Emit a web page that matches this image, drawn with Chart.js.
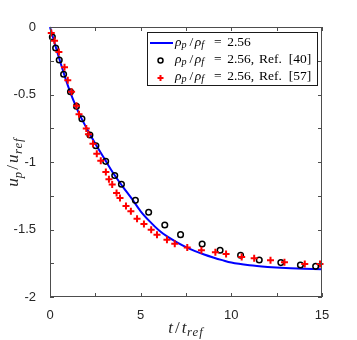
<!DOCTYPE html>
<html>
<head>
<meta charset="utf-8">
<script src="https://cdn.jsdelivr.net/npm/chart.js@4"></script>
<style>
  html, body { margin: 0; padding: 0; background: #fff; }
  #wrap { width: 357px; height: 340px; }
</style>
</head>
<body>
<div id="wrap"><canvas id="velocityChart" width="357" height="340"></canvas></div>
<script>
// === data ===
const blueT = [0, 0.5, 1, 1.5, 2, 2.5, 3, 3.5, 4, 4.5, 5, 5.5, 6, 6.5, 7, 7.5, 8, 8.5, 9, 9.5, 10, 11, 12, 13, 14, 15];
const blueU = [0, -0.23, -0.44, -0.61, -0.745, -0.865, -0.975, -1.085, -1.18, -1.27, -1.365, -1.44, -1.505, -1.555, -1.595, -1.63, -1.66, -1.685, -1.707, -1.727, -1.745, -1.765, -1.777, -1.785, -1.79, -1.795];

const circT = [0.13, 0.31, 0.51, 0.75, 1.13, 1.46, 1.76, 2.2, 2.53, 3.07, 3.57, 3.94, 4.71, 5.44, 6.33, 7.2, 8.39, 9.38, 10.51, 11.54, 12.73, 13.81, 14.65];
const circU = [-0.074, -0.155, -0.244, -0.35, -0.48, -0.587, -0.68, -0.8, -0.88, -0.995, -1.1, -1.165, -1.284, -1.372, -1.467, -1.538, -1.607, -1.654, -1.691, -1.726, -1.745, -1.763, -1.773];

const crossT = [0.07, 0.25, 0.49, 0.8, 0.98, 1.19, 1.46, 1.6, 2.0, 2.12, 2.37, 2.58, 2.8, 3.08, 3.25, 3.43, 3.67, 3.86, 4.19, 4.46, 4.8, 5.18, 5.58, 5.9, 6.45, 6.88, 7.57, 8.35, 9.12, 9.71, 10.57, 11.26, 12.16, 12.93, 14.05, 14.89];
const crossU = [-0.044, -0.102, -0.185, -0.298, -0.395, -0.48, -0.583, -0.646, -0.752, -0.795, -0.864, -0.939, -0.99, -1.074, -1.128, -1.167, -1.23, -1.267, -1.326, -1.365, -1.42, -1.46, -1.502, -1.538, -1.575, -1.605, -1.633, -1.654, -1.669, -1.681, -1.704, -1.713, -1.728, -1.743, -1.756, -1.756];

const xTicks = [0, 5, 10, 15];
const yTicks = [0, -0.5, -1, -1.5, -2];

const axisColor = '#4d4d4d';
const labelColor = '#262626';
const serif = '"Liberation Serif", "DejaVu Serif", serif';

const toXY = (xs, ys) => xs.map((v, i) => ({ x: v, y: ys[i] }));

// math-ish text: pieces {t, it, sub, pl, pr, ls}
function setFont(ctx, p, size) {
    ctx.font = (p.it ? 'italic ' : '') + (p.sub ? size * 0.75 : size) + 'px ' + serif;
    ctx.letterSpacing = (p.ls || 0) + 'px';
}
function drawPieces(ctx, pieces, x, y, size, align) {
    const widthOf = p => {
        setFont(ctx, p, size);
        return (p.pl || 0) + ctx.measureText(p.t).width + (p.pr || 0);
    };
    const total = pieces.reduce((s, p) => s + widthOf(p), 0);
    let cx = align === 'center' ? x - total / 2 : x;
    ctx.textBaseline = 'alphabetic';
    ctx.textAlign = 'left';
    pieces.forEach(p => {
        const w = widthOf(p);
        ctx.fillText(p.t, cx + (p.pl || 0), p.sub ? y + size * 0.22 : y);
        cx += w;
    });
    ctx.letterSpacing = '0px';
}

const rhoRatio = [
    { t: 'ρ', it: true }, { t: 'p', it: true, sub: true, pr: 2 }, { t: '/', pl: 1, pr: 1.5 },
    { t: 'ρ', it: true }, { t: 'f', it: true, sub: true, pr: 3 }, { t: '=', pl: 7, pr: 5.5 }, { t: '2.56' }
];
const refPieces = tag => [{ t: ', ' }, { t: 'Ref.', pl: 1.5 }, { t: ' [' + tag + ']', pl: 3.5 }];

const framePlugin = {
    id: 'frame',
    afterDatasetsDraw(chart) {
        const { ctx, chartArea: a, scales: { x, y } } = chart;
        ctx.save();
        // box
        ctx.strokeStyle = axisColor;
        ctx.lineWidth = 1;
        ctx.strokeRect(Math.round(a.left) + 0.5, Math.round(a.top) + 0.5, Math.round(a.right - a.left) - 1, Math.round(a.bottom - a.top) - 1);
        // inward ticks
        const tl = 4;
        ctx.beginPath();
        x.ticks.forEach(t => {
            const px = Math.round(x.getPixelForValue(t.value)) + 0.5;
            ctx.moveTo(px, a.bottom); ctx.lineTo(px, a.bottom - tl);
            ctx.moveTo(px, a.top); ctx.lineTo(px, a.top + tl);
        });
        y.ticks.forEach(t => {
            const py = Math.round(y.getPixelForValue(t.value)) + 0.5;
            ctx.moveTo(a.left, py); ctx.lineTo(a.left + tl, py);
            ctx.moveTo(a.right, py); ctx.lineTo(a.right - tl, py);
        });
        ctx.stroke();

        // legend
        const lx = 147, ly = 32, lw = 170, lh = 53;
        ctx.fillStyle = '#fff';
        ctx.fillRect(lx, ly, lw, lh);
        ctx.strokeStyle = '#1a1a1a';
        ctx.strokeRect(lx + 0.5, ly + 0.5, lw, lh);
        const base = [45.5, 62.5, 79.5];
        // row 1: line
        ctx.strokeStyle = '#0000ff';
        ctx.lineWidth = 2;
        ctx.beginPath(); ctx.moveTo(150, 43); ctx.lineTo(173, 43); ctx.stroke();
        // row 2: circle
        ctx.strokeStyle = '#000';
        ctx.lineWidth = 1.5;
        ctx.beginPath(); ctx.arc(160.5, 60.5, 2.5, 0, Math.PI * 2); ctx.stroke();
        // row 3: cross
        ctx.strokeStyle = '#ff0000';
        ctx.lineWidth = 2;
        ctx.beginPath();
        ctx.moveTo(157.5, 78); ctx.lineTo(163.5, 78);
        ctx.moveTo(160.5, 75); ctx.lineTo(160.5, 81);
        ctx.stroke();
        ctx.fillStyle = '#000';
        drawPieces(ctx, rhoRatio, 175, base[0], 13.5);
        drawPieces(ctx, rhoRatio.concat(refPieces('40')), 175, base[1], 13.5);
        drawPieces(ctx, rhoRatio.concat(refPieces('57')), 175, base[2], 13.5);

        // axis titles
        ctx.fillStyle = labelColor;
        drawPieces(ctx, [{ t: 't', it: true, pr: 2 }, { t: '/', pr: 2 }, { t: 't', it: true, pr: 0.5 }, { t: 'ref', it: true, sub: true, ls: 1 }],
            (a.left + a.right) / 2, 332.5, 17, 'center');
        ctx.translate(18, (a.top + a.bottom) / 2);
        ctx.rotate(-Math.PI / 2);
        drawPieces(ctx, [{ t: 'u', it: true }, { t: 'p', it: true, sub: true, pr: 2 }, { t: '/', pr: 2 }, { t: 'u', it: true, pr: 0.5 }, { t: 'ref', it: true, sub: true, ls: 1 }],
            0, 0, 17, 'center');
        ctx.restore();
    }
};

const ctx = document.getElementById('velocityChart');
new Chart(ctx, {
    type: 'scatter',
    data: {
        datasets: [
            {
                label: 'ρp/ρf = 2.56',
                data: toXY(blueT, blueU),
                showLine: true,
                borderColor: '#0000ff',
                borderWidth: 2,
                pointRadius: 0,
                cubicInterpolationMode: 'monotone',
                order: 3
            },
            {
                label: 'ρp/ρf = 2.56, Ref. [40]',
                data: toXY(circT, circU),
                pointStyle: 'circle',
                pointRadius: 2.8,
                borderColor: '#000',
                backgroundColor: 'rgba(0,0,0,0)',
                borderWidth: 1.5,
                order: 2
            },
            {
                label: 'ρp/ρf = 2.56, Ref. [57]',
                data: toXY(crossT, crossU),
                pointStyle: 'cross',
                pointRadius: 3.5,
                borderColor: '#ff0000',
                borderWidth: 2,
                order: 1
            }
        ]
    },
    options: {
        responsive: false,
        animation: false,
        events: [],
        clip: false,
        layout: { padding: { top: 27, right: 35, left: 0, bottom: 0 } },
        plugins: { legend: { display: false }, tooltip: { enabled: false } },
        scales: {
            x: {
                type: 'linear', min: 0, max: 15,
                grid: { display: false },
                border: { display: false },
                afterFit: s => { s.height = 43; },
                ticks: {
                    stepSize: 2.5, autoSkip: false, maxRotation: 0, padding: 3,
                    color: labelColor, font: { family: '"Liberation Sans", Arial, sans-serif', size: 13 },
                    callback: v => xTicks.includes(v) ? String(v) : ''
                }
            },
            y: {
                type: 'linear', min: -2, max: 0,
                grid: { display: false },
                border: { display: false },
                afterFit: s => { s.width = 50; },
                ticks: {
                    stepSize: 0.25, autoSkip: false, padding: 6,
                    color: labelColor, font: { family: '"Liberation Sans", Arial, sans-serif', size: 13 },
                    callback: v => yTicks.includes(v) ? String(v) : ''
                }
            }
        }
    },
    plugins: [framePlugin]
});
</script>
</body>
</html>
